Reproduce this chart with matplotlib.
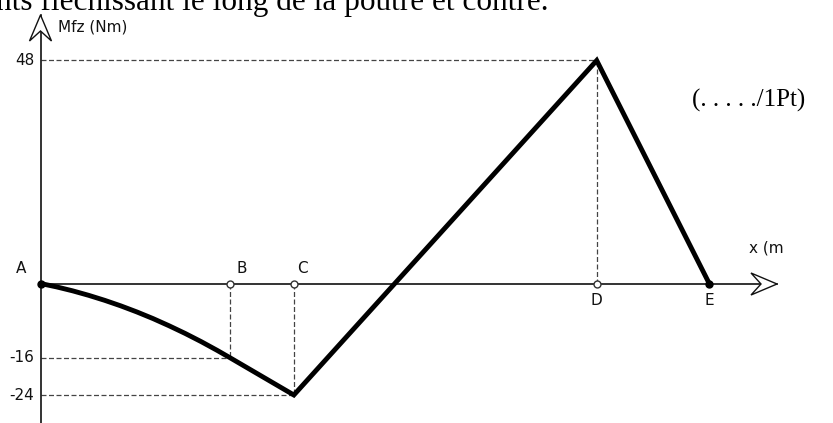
import matplotlib
matplotlib.use('Agg')
import matplotlib.pyplot as plt
from matplotlib.patches import Polygon

point_labels = ['A', 'B', 'C', 'D', 'E']
point_x = [0.0, 2.95, 3.94, 8.65, 10.40]
point_m = [0, -16, -24, 48, 0]

# troncon A-B (parabolique), lu point par point
curve_x = [0.0, 0.25, 0.5, 0.75, 1.0, 1.25, 1.5, 1.75, 2.0, 2.25, 2.5, 2.75, 2.95]
curve_m = [0.0, -0.73, -1.58, -2.55, -3.63, -4.82, -6.13, -7.55, -9.10,
           -10.75, -12.52, -14.41, -16.0]

y_ticks = [48, -16, -24]

# echelle: pixels de l'image de reference
X0, SX = 40.5, 64.3
Y0, SY = 283.5, 4.646
W, H = 833, 423


def px2x(px):
    return (px - X0) / SX


def px2y(py):
    return (Y0 - py) / SY


fig = plt.figure(figsize=(W / 100, H / 100), dpi=100)
ax = fig.add_axes([0, 0, 1, 1])
ax.set_xlim(px2x(0), px2x(W))
ax.set_ylim(px2y(H), px2y(0))
ax.axis('off')

# axes
x_tip = px2x(777)
y_tip = px2y(15)
ax.plot([0, x_tip], [0, 0], color='#333333', lw=1.4, zorder=2)
ax.plot([0, 0], [px2y(H), y_tip], color='#111111', lw=1.2, zorder=2)


def arrow_head(tip_px, direction):
    # tete de fleche ouverte, dos concave
    tx, ty = tip_px
    L, hw, notch = 26, 11, 16
    if direction == 'right':
        pts = [(tx, ty), (tx - L, ty - hw), (tx - notch, ty), (tx - L, ty + hw)]
    else:
        pts = [(tx, ty), (tx - hw, ty + L), (tx, ty + notch), (tx + hw, ty + L)]
    pts = [(px2x(a), px2y(b)) for a, b in pts]
    ax.add_patch(Polygon(pts, closed=True, fc='white', ec='#111111', lw=1.0, zorder=3))


arrow_head((777, 284), 'right')
arrow_head((40.5, 15), 'up')

# lignes de rappel en pointilles
dash = dict(color='#444444', lw=0.9, ls=(0, (4, 2)), zorder=1)
for i in (1, 2, 3):
    ax.plot([0, point_x[i]], [point_m[i], point_m[i]], **dash)
    ax.plot([point_x[i], point_x[i]], [0, point_m[i]], **dash)

# diagramme du moment flechissant
line_x = curve_x + point_x[2:]
line_m = curve_m + point_m[2:]
ax.plot(line_x, line_m, color='black', lw=3.5, solid_joinstyle='miter',
        solid_capstyle='butt', zorder=4)

# points
for i, lab in enumerate(point_labels):
    if lab in ('A', 'E'):
        ax.plot(point_x[i], 0, 'o', ms=5, color='black', zorder=5)
    else:
        ax.plot(point_x[i], 0, 'o', ms=5, mfc='white', mec='#333333', mew=1.0, zorder=5)

label_off = {'A': (-14, 10.5), 'B': (8, 10.5), 'C': (6.5, 10.5), 'D': (0, -12.5), 'E': (0, -12.5)}
for i, lab in enumerate(point_labels):
    dx, dy = label_off[lab]
    ax.annotate(lab, (point_x[i], 0), xytext=(dx, dy), textcoords='offset points',
                ha='center', va='center', fontsize=11, family='DejaVu Sans', color='#111111')

# graduations
for v in y_ticks:
    ax.text(px2x(34), v, str(v), ha='right', va='center', fontsize=11,
            family='DejaVu Sans', color='#111111')

ax.text(px2x(58), px2y(27), 'Mfz (Nm)', ha='left', va='center', fontsize=11,
        family='DejaVu Sans', color='#111111')
ax.text(px2x(749), px2y(248), 'x (m', ha='left', va='center', fontsize=11,
        family='DejaVu Sans', color='#111111')

# textes en Times
ax.text(px2x(692), px2y(100), '(. . . . ./1Pt)', ha='left', va='center', fontsize=18,
        family='Liberation Serif', color='black')
ax.text(px2x(548), px2y(10), 'nts fléchissant le long de la poutre et contre.',
        ha='right', va='baseline', fontsize=22.5, family='Liberation Serif', color='black')

fig.savefig('out.png', dpi=100)
